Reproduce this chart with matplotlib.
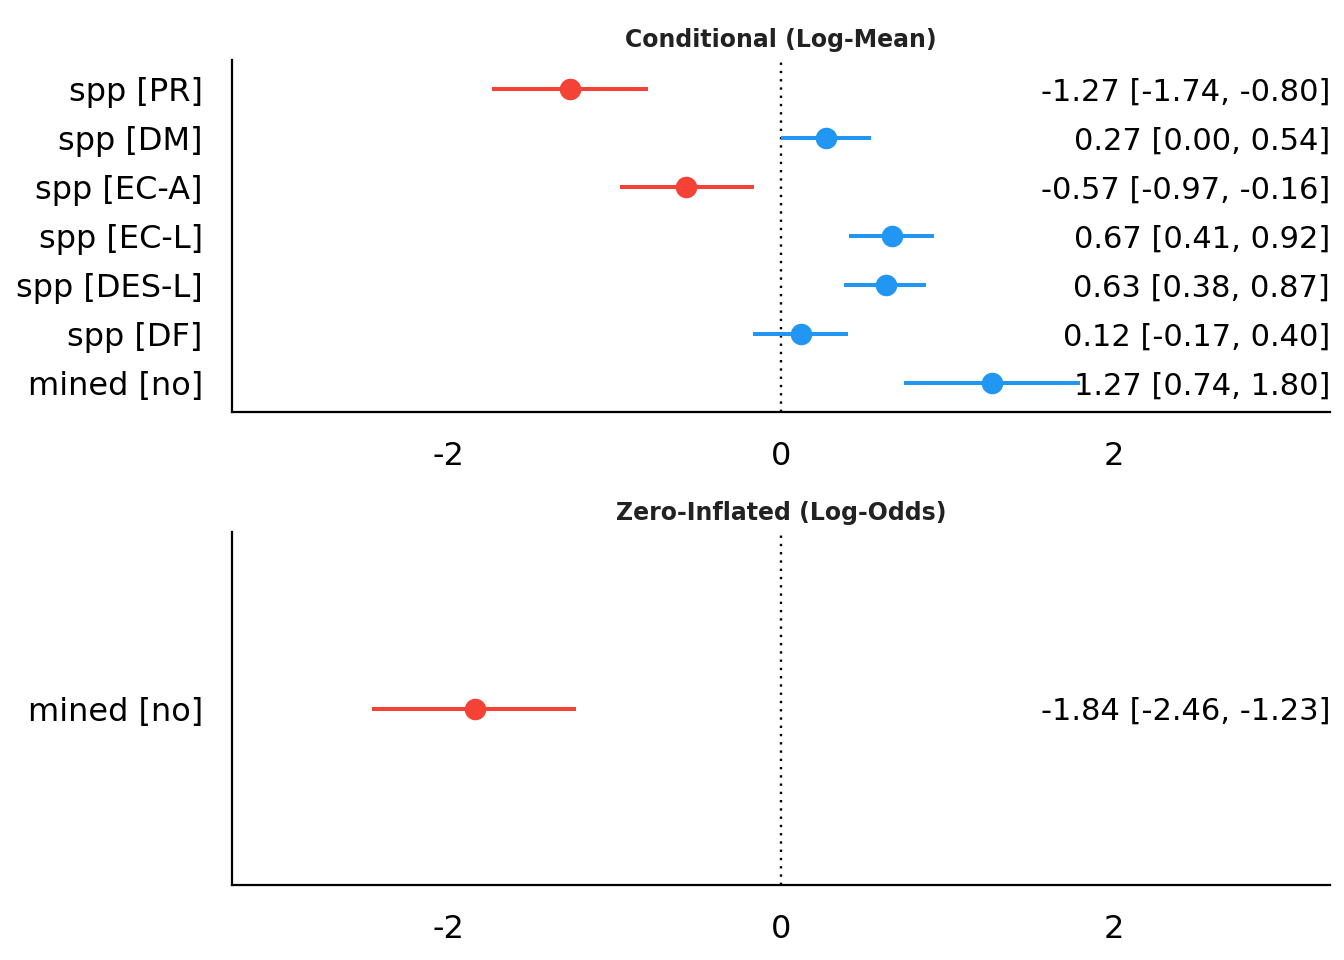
import matplotlib
matplotlib.use("Agg")
import matplotlib.pyplot as plt

# Conditional model
cond_terms = ["spp [PR]", "spp [DM]", "spp [EC-A]", "spp [EC-L]", "spp [DES-L]", "spp [DF]", "mined [no]"]
cond_est = [-1.27, 0.27, -0.57, 0.67, 0.63, 0.12, 1.27]
cond_lo = [-1.74, 0.00, -0.97, 0.41, 0.38, -0.17, 0.74]
cond_hi = [-0.80, 0.54, -0.16, 0.92, 0.87, 0.40, 1.80]

# Zero-inflated model
zi_terms = ["mined [no]"]
zi_est = [-1.84]
zi_lo = [-2.46]
zi_hi = [-1.23]

xticks = [-2, 0, 2]
RED = "#F44336"
BLUE = "#2196F3"

fig = plt.figure(figsize=(13.44, 9.6), dpi=100)
ax1 = fig.add_axes([0.1726, 0.5708, 0.9896 - 0.1726, 0.9375 - 0.5708])
ax2 = fig.add_axes([0.1726, 0.0781, 0.9896 - 0.1726, 0.4458 - 0.0781])

def panel(ax, terms, est, lo, hi, title):
    n = len(terms)
    ys = list(range(1, n + 1))
    for y, e, l, h in zip(ys, est, lo, hi):
        c = RED if e < 0 else BLUE
        ax.text(3.3, y, f"{e:.2f} [{l:.2f}, {h:.2f}]",
                ha="right", va="center_baseline", fontsize=22, color="black", zorder=2)
        ax.plot([l, h], [y, y], color=c, lw=2.9, solid_capstyle="butt", zorder=3)
        ax.plot([e], [y], "o", color=c, ms=14.5, zorder=4)
    ax.axvline(0, color="black", lw=1.7, ls=(0, (1, 2.5)), zorder=1)
    ax.set_xlim(-3.3, 3.3)
    ax.set_ylim(n + 0.59, 0.41)
    ax.set_yticks(ys)
    ax.set_yticklabels(terms, fontsize=23)
    ax.set_xticks(xticks)
    ax.set_xticklabels([str(t) for t in xticks], fontsize=23)
    ax.tick_params(axis="both", length=0)
    ax.tick_params(axis="x", pad=21)
    ax.tick_params(axis="y", pad=21)
    for t in ax.get_yticklabels():
        t.set_verticalalignment("center_baseline")
    for s in ["top", "right"]:
        ax.spines[s].set_visible(False)
    for s in ["left", "bottom"]:
        ax.spines[s].set_linewidth(1.6)
    ax.set_title(title, fontsize=17, fontweight="bold", color="#222222", pad=9)

panel(ax1, cond_terms, cond_est, cond_lo, cond_hi, "Conditional (Log-Mean)")
panel(ax2, zi_terms, zi_est, zi_lo, zi_hi, "Zero-Inflated (Log-Odds)")

fig.savefig("out.png", dpi=100)
